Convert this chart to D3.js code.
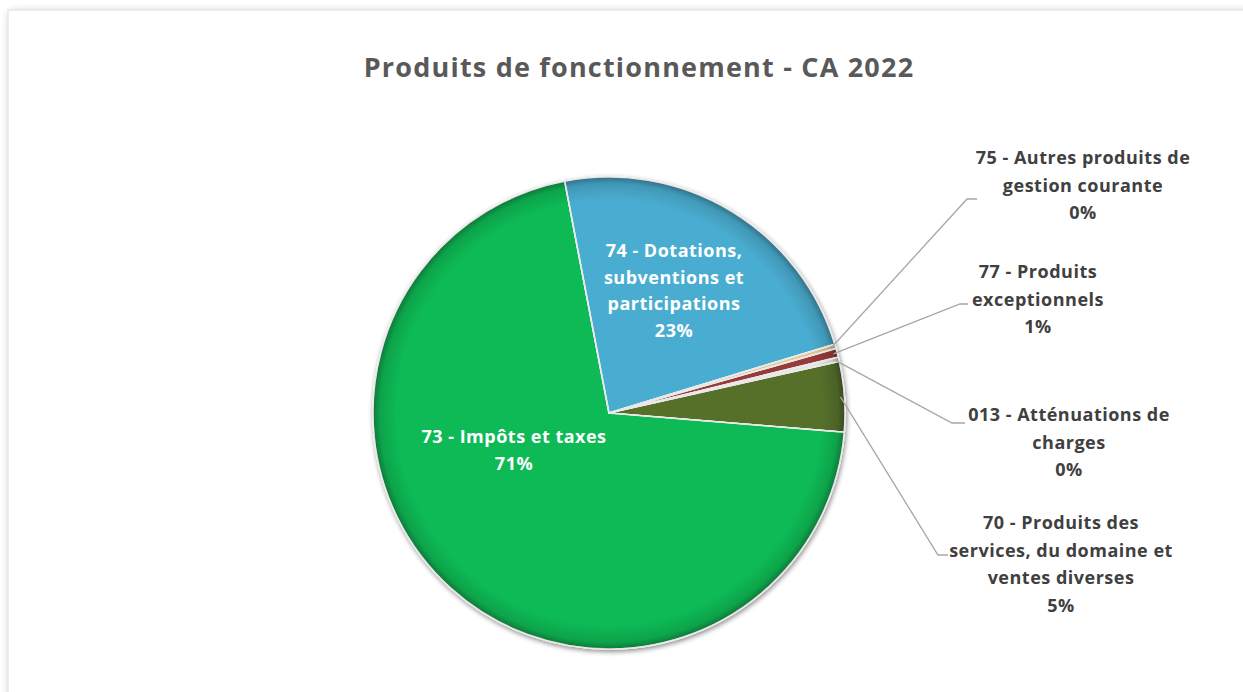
<!DOCTYPE html>
<html>
<head>
<meta charset="utf-8">
<script src="https://cdn.jsdelivr.net/npm/d3@7"></script>
<style>
  html, body { margin: 0; padding: 0; background: #fff; }
  svg { display: block; }
</style>
</head>
<body>
<svg id="chart" width="1243" height="692"></svg>
<script>
// ---- Data ----
const title = "Produits de fonctionnement - CA 2022";
const categories = [
  "013 - Atténuations de charges",
  "70 - Produits des services, du domaine et ventes diverses",
  "73 - Impôts et taxes",
  "74 - Dotations, subventions et participations",
  "75 - Autres produits de gestion courante",
  "77 - Produits exceptionnels"
];
const values = [0.3, 4.8, 70.7, 23.3, 0.3, 0.6];
const labelLines = [
  ["013 - Atténuations de", "charges"],
  ["70 - Produits des", "services, du domaine et", "ventes diverses"],
  ["73 - Impôts et taxes"],
  ["74 - Dotations,", "subventions et", "participations"],
  ["75 - Autres produits de", "gestion courante"],
  ["77 - Produits", "exceptionnels"]
];
const colors = ["#E4E4E4", "#56702C", "#0BBA55", "#4AADD1", "#E6C48E", "#983A38"];

// ---- Layout ----
const svg = d3.select("#chart");
const W = 1243, H = 692;
const cx = 609, cy = 413, R = 236;
const startDeg = 76.3;
const font = "'Open Sans', Lato, sans-serif";

const defs = svg.append("defs");
const shadow = defs.append("filter").attr("id", "frameShadow")
  .attr("x", "-5%").attr("y", "-5%").attr("width", "110%").attr("height", "110%");
shadow.append("feGaussianBlur").attr("in", "SourceAlpha").attr("stdDeviation", 4);
shadow.append("feOffset").attr("dx", 2).attr("dy", 2);
shadow.append("feComponentTransfer").append("feFuncA").attr("type", "linear").attr("slope", 0.25);
const fm = shadow.append("feMerge");
fm.append("feMergeNode");
fm.append("feMergeNode").attr("in", "SourceGraphic");

const pieShadow = defs.append("filter").attr("id", "pieShadow")
  .attr("x", "-10%").attr("y", "-10%").attr("width", "120%").attr("height", "120%");
pieShadow.append("feGaussianBlur").attr("in", "SourceAlpha").attr("stdDeviation", 2.5);
pieShadow.append("feOffset").attr("dx", 1).attr("dy", 2);
pieShadow.append("feComponentTransfer").append("feFuncA").attr("type", "linear").attr("slope", 0.45);
const pm = pieShadow.append("feMerge");
pm.append("feMergeNode");
pm.append("feMergeNode").attr("in", "SourceGraphic");

const bevel = defs.append("radialGradient").attr("id", "bevel")
  .attr("gradientUnits", "userSpaceOnUse")
  .attr("cx", 0).attr("cy", 0).attr("r", R);
bevel.append("stop").attr("offset", "0%").attr("stop-color", "#fff").attr("stop-opacity", 0.0);
bevel.append("stop").attr("offset", "90%").attr("stop-color", "#000").attr("stop-opacity", 0.0);
bevel.append("stop").attr("offset", "97%").attr("stop-color", "#000").attr("stop-opacity", 0.12);
bevel.append("stop").attr("offset", "100%").attr("stop-color", "#000").attr("stop-opacity", 0.35);

// Frame
svg.append("rect")
  .attr("x", 8).attr("y", 10).attr("width", W + 20).attr("height", H + 20)
  .attr("fill", "#fff").attr("stroke", "#dcdcdc").attr("stroke-width", 1)
  .attr("filter", "url(#frameShadow)");

// Title
svg.append("text")
  .attr("x", 639).attr("y", 77)
  .attr("text-anchor", "middle")
  .attr("font-family", font)
  .attr("font-weight", 700)
  .attr("font-size", 27)
  .attr("letter-spacing", 1.2)
  .attr("fill", "#595959")
  .text(title);

const data = categories.map((c, i) => ({ cat: c, value: values[i], lines: labelLines[i], color: colors[i] }));
const total = d3.sum(values);

const pie = d3.pie().sort(null).value(d => d.value)
  .startAngle(startDeg * Math.PI / 180)
  .endAngle(startDeg * Math.PI / 180 + 2 * Math.PI);
const arcs = pie(data);
const arc = d3.arc().innerRadius(0).outerRadius(R);

const g = svg.append("g").attr("transform", `translate(${cx},${cy})`);
const pieG = g.append("g").attr("filter", "url(#pieShadow)");
pieG.selectAll("path.slice").data(arcs).join("path")
  .attr("class", "slice")
  .attr("d", arc)
  .attr("fill", d => d.data.color)
  .attr("stroke", "#f4f4f4")
  .attr("stroke-width", 1.6)
  .attr("stroke-linejoin", "round");
pieG.selectAll("path.bev").data(arcs).join("path")
  .attr("class", "bev")
  .attr("d", arc)
  .attr("fill", "url(#bevel)")
  .attr("stroke", "#e8e8e8")
  .attr("stroke-width", 1.2);

const pct = d => Math.round(d.value / total * 100) + "%";

function multiLine(sel, x, y, lines, lh, fill, size) {
  const t = sel.append("text")
    .attr("text-anchor", "middle")
    .attr("font-family", font)
    .attr("font-weight", 700)
    .attr("font-size", size)
    .attr("letter-spacing", 0.5)
    .attr("fill", fill);
  lines.forEach((l, i) => {
    t.append("tspan").attr("x", x).attr("y", y + i * lh).text(l);
  });
  return t;
}

// Inside labels (73, 74)
const inside = {
  2: { x: 514, y: 443 },
  3: { x: 674, y: 257 }
};
Object.entries(inside).forEach(([i, p]) => {
  const d = data[+i];
  multiLine(svg, p.x, p.y, d.lines.concat([pct(d)]), 26.5, "#ffffff", 18);
});

// Outside labels with leader lines
const outside = {
  4: { x: 1083, y: 164, lx: 977, ly: 199, kx: 967 },
  5: { x: 1038, y: 278, lx: 968, ly: 304, kx: 960 },
  0: { x: 1069, y: 421, lx: 965, ly: 423, kx: 952 },
  1: { x: 1061, y: 529, lx: 948, ly: 555, kx: 938 }
};
Object.entries(outside).forEach(([i, p]) => {
  const a = arcs[+i];
  const mid = (a.startAngle + a.endAngle) / 2;
  const sx = cx + Math.sin(mid) * (R - 4);
  const sy = cy - Math.cos(mid) * (R - 4);
  svg.append("polyline")
    .attr("points", `${sx},${sy} ${p.kx},${p.ly} ${p.lx},${p.ly}`)
    .attr("fill", "none")
    .attr("stroke", "#a6a6a6")
    .attr("stroke-width", 1.3);
  const d = data[+i];
  multiLine(svg, p.x, p.y, d.lines.concat([pct(d)]), 27.5, "#404040", 18);
});
</script>
</body>
</html>
